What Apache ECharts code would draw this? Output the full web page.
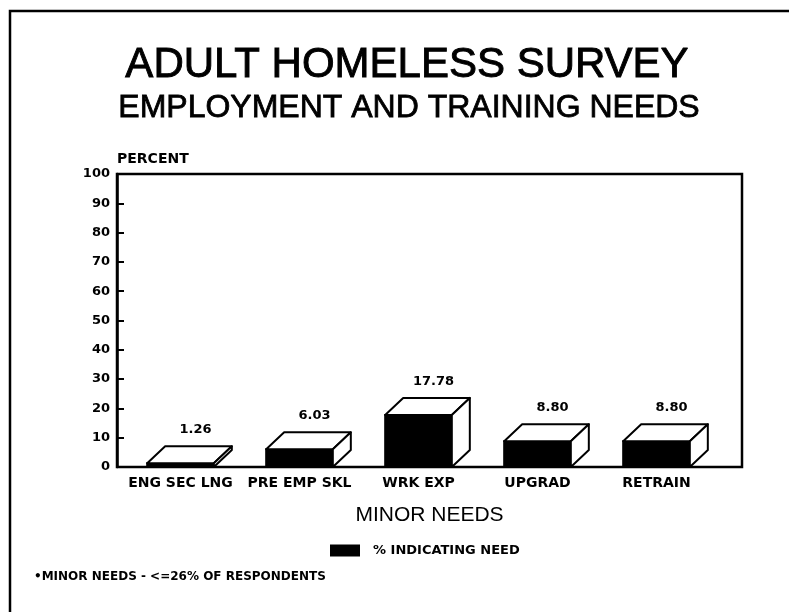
<!DOCTYPE html>
<html>
<head>
<meta charset="utf-8">
<title>Adult Homeless Survey</title>
<script src="https://cdn.jsdelivr.net/npm/echarts@6/dist/echarts.min.js"></script>
<style>
  html, body { margin: 0; padding: 0; background: #fff; }
  #chart { width: 789px; height: 612px; }
</style>
</head>
<body>
<div id="chart"></div>
<script>
// Minor employment and training needs, percent of respondents
var categories = ['ENG SEC LNG', 'PRE EMP SKL', 'WRK EXP', 'UPGRAD', 'RETRAIN'];
var needPercent = [1.26, 6.03, 17.78, 8.80, 8.80];
var percentTicks = [0, 10, 20, 30, 40, 50, 60, 70, 80, 90, 100];

var seriesName = '% INDICATING NEED';
var plotFont = 'DejaVu Sans';
var titleFont = 'Liberation Sans';

var chart = echarts.init(document.getElementById('chart'), null, { renderer: 'canvas' });

// 3-D box: dark front face, open top and side faces
function renderBox(params, api) {
  var idx = api.value(0);
  var val = api.value(1);
  var base = api.coord([idx, 0]);
  var top = api.coord([idx, val]);
  var band = api.size([1, 0])[0];
  var w = band * 0.56;
  var dx = 18, dy = 17;
  var x0 = base[0] - w / 2, x1 = base[0] + w / 2;
  var y0 = base[1], y1 = top[1];
  var line = { stroke: '#000', lineWidth: 2, lineJoin: 'round' };
  return {
    type: 'group',
    children: [
      {
        type: 'rect',
        shape: { x: x0, y: y1, width: w, height: y0 - y1 },
        style: { fill: '#000', stroke: '#000', lineWidth: 2 }
      },
      {
        type: 'polygon',
        shape: { points: [[x0, y1], [x0 + dx, y1 - dy], [x1 + dx, y1 - dy], [x1, y1]] },
        style: Object.assign({ fill: '#fff' }, line)
      },
      {
        type: 'polygon',
        shape: { points: [[x1, y1], [x1 + dx, y1 - dy], [x1 + dx, y0 - dy], [x1, y0]] },
        style: Object.assign({ fill: '#fff' }, line)
      },
      {
        type: 'text',
        style: {
          x: base[0] + 15,
          y: y1 - dy - 10,
          text: val.toFixed(2),
          fill: '#000',
          font: 'bold 13px "' + plotFont + '"',
          textAlign: 'center',
          textVerticalAlign: 'bottom'
        }
      }
    ]
  };
}

var option = {
  backgroundColor: '#fff',
  animation: false,
  title: [
    {
      text: 'ADULT HOMELESS SURVEY',
      left: 402, top: 39, textAlign: 'center',
      textStyle: {
        fontFamily: titleFont, fontSize: 42, fontWeight: 'normal', color: '#000',
        textBorderColor: '#000', textBorderWidth: 0.9
      }
    },
    {
      text: 'EMPLOYMENT AND TRAINING NEEDS',
      left: 404, top: 87, textAlign: 'center',
      textStyle: {
        fontFamily: titleFont, fontSize: 32, fontWeight: 'normal', color: '#000',
        textBorderColor: '#000', textBorderWidth: 0.8
      }
    }
  ],
  legend: {
    data: [{ name: seriesName, icon: 'rect', itemStyle: { color: '#000' } }],
    left: 325, top: 539,
    itemWidth: 30, itemHeight: 12,
    textStyle: { fontFamily: plotFont, fontSize: 13, fontWeight: 'bold', color: '#000', padding: [0, 0, 0, 8] }
  },
  grid: [
    { left: 117, top: 174, width: 625, height: 293, show: true, borderColor: '#000', borderWidth: 2.5, containLabel: false },
    { left: 121, top: 174, width: 595, height: 293, containLabel: false }
  ],
  xAxis: [
    {
      gridIndex: 0, type: 'value', min: 0, max: 1,
      axisLine: { show: false }, axisTick: { show: false }, axisLabel: { show: false }, splitLine: { show: false },
      name: 'MINOR NEEDS', nameLocation: 'middle', nameGap: 38,
      nameTextStyle: { fontFamily: titleFont, fontSize: 21, color: '#000' }
    },
    {
      gridIndex: 1, type: 'category', data: categories,
      axisLine: { show: false }, axisTick: { show: false }, splitLine: { show: false },
      axisLabel: { interval: 0, margin: 9, fontFamily: plotFont, fontSize: 14, fontWeight: 'bold', color: '#000' }
    }
  ],
  yAxis: [
    {
      gridIndex: 0, type: 'value', min: percentTicks[0], max: percentTicks[percentTicks.length - 1], interval: 10,
      axisLine: { show: true, lineStyle: { color: '#000', width: 2.5 } },
      axisTick: { show: true, inside: true, length: 7, lineStyle: { color: '#000', width: 2 } },
      axisLabel: { margin: 7, fontFamily: plotFont, fontSize: 13, fontWeight: 'bold', color: '#000' },
      splitLine: { show: false },
      name: 'PERCENT', nameLocation: 'end', nameGap: 8,
      nameTextStyle: { align: 'left', fontFamily: plotFont, fontSize: 14, fontWeight: 'bold', color: '#000' }
    },
    {
      gridIndex: 1, type: 'value', min: 0, max: 100, show: false
    }
  ],
  series: [
    {
      name: seriesName,
      type: 'custom',
      xAxisIndex: 1, yAxisIndex: 1,
      itemStyle: { color: '#000' },
      renderItem: renderBox,
      encode: { x: 0, y: 1 },
      data: needPercent.map(function (v, i) { return [i, v]; })
    }
  ],
  graphic: [
    {
      type: 'polyline',
      shape: { points: [[10, 612], [10, 11], [789, 11]] },
      style: { stroke: '#000', lineWidth: 2.5, fill: null }
    },
    {
      type: 'text',
      left: 34, top: 571,
      style: {
        text: '\u2022MINOR NEEDS - <=26% OF RESPONDENTS',
        font: 'bold 12px "' + plotFont + '"',
        fill: '#000'
      }
    }
  ]
};

chart.setOption(option);
</script>
</body>
</html>
